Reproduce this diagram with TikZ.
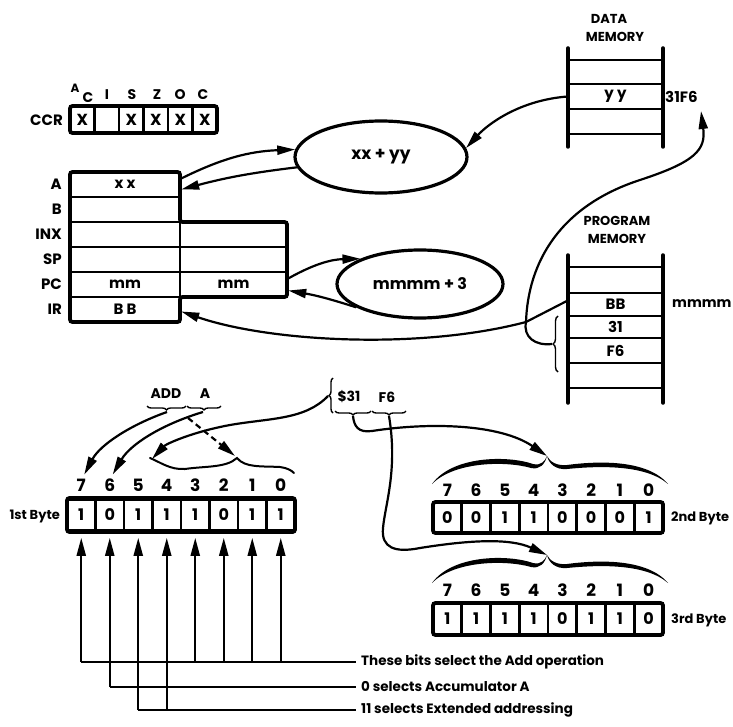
\documentclass[tikz,border=0pt]{standalone}
\usepackage{fontspec}
\setmainfont{Poppins}
\usetikzlibrary{arrows.meta,shapes.geometric,decorations.pathreplacing,calc}
\begin{document}
\begin{tikzpicture}[x=1pt,y=-1pt,
  fnt/.style={font=\bfseries\fontsize{#1}{#1}\selectfont, inner sep=0pt},
  reg/.style={draw, line width=2.4pt, minimum height=25pt, inner sep=0pt, fnt=15},
  ccrcell/.style={draw, line width=2.2pt, minimum width=24.5pt, minimum height=27pt, inner sep=0pt, fnt=16},
  bitcell/.style={draw, line width=2.6pt, minimum width=28.6pt, minimum height=31pt, inner sep=0pt, fnt=16},
  memrow/.style={minimum width=95pt, minimum height=22pt, inner sep=0pt, fnt=15},
  memside/.style={line width=3.5pt, line cap=round},
  memline/.style={line width=2.6pt},
  frame/.style={line width=3.8pt, rounded corners=2.5pt},
  oval/.style={draw, ellipse, line width=3.2pt, inner sep=0pt},
  arr/.style={line width=2.2pt, -{Triangle[length=18pt,width=9pt]}},
  wire/.style={line width=2.2pt},
  curly/.style={line width=1.4pt, decorate, decoration={brace, amplitude=#1}},
]
\useasboundingbox (0,0) rectangle (733,727);

% ---------------- CCR ----------------
\node[fnt=15, anchor=east] (ccrlbl) at (63,120) {CCR};
\foreach \v [count=\i from 0] in {X,,X,X,X,X}
  \node[ccrcell] (ccr\i) at (82.25+24.5*\i,119.5) {\v};
\draw[frame] (70,106) rectangle (217,133);
\node[fnt=12] (fa) at (75,88) {A};
\node[fnt=14] (fc1) at (88,98) {C};
\node[fnt=14] (fi) at (107,95) {I};
\node[fnt=14] (fs) at (132,95) {S};
\node[fnt=14] (fz) at (157,95) {Z};
\node[fnt=14] (fo) at (180,95) {O};
\node[fnt=14] (fc2) at (203,95) {C};

% ---------------- Registers ----------------
\node[reg, minimum width=110pt] (regA) at (125,184.5) {x x};
\node[reg, minimum width=110pt] (regB) at (125,209.5) {};
\node[reg, minimum width=110pt] (regXh) at (125,234.5) {};
\node[reg, minimum width=107pt] (regXl) at (233.5,234.5) {};
\node[reg, minimum width=110pt] (regSh) at (125,259.5) {};
\node[reg, minimum width=107pt] (regSl) at (233.5,259.5) {};
\node[reg, minimum width=110pt] (regPCh) at (125,284.5) {mm};
\node[reg, minimum width=107pt] (regPCl) at (233.5,284.5) {mm};
\node[reg, minimum width=110pt] (regIR) at (125,309.5) {B B};
\draw[frame] (70,172) -- (180,172) -- (180,222) -- (287,222) -- (287,297) -- (180,297) -- (180,322) -- (70,322) -- cycle;
\node[fnt=15, anchor=east] (lA) at (62,184.5) {A};
\node[fnt=15, anchor=east] (lB) at (62,209.5) {B};
\node[fnt=15, anchor=east] (lX) at (62,234.5) {INX};
\node[fnt=15, anchor=east] (lS) at (62,259.5) {SP};
\node[fnt=15, anchor=east] (lP) at (62,284.5) {PC};
\node[fnt=15, anchor=east] (lI) at (62,309.5) {IR};

% ---------------- Ovals ----------------
\node[oval, fnt=17, minimum width=172pt, minimum height=72pt] (ell1) at (381,157) {xx + yy};
\node[oval, fnt=16, minimum width=166pt, minimum height=68pt] (ell2) at (420,284) {mmmm + 3};

% ---------------- Data memory ----------------
\node[fnt=13] (dmt1) at (609,19) {DATA};
\node[fnt=13] (dmt2) at (615,37) {MEMORY};
\foreach \yy in {60,84,109,134} \draw[memline] (568,\yy) -- (663,\yy);
\draw[memside] (568,48) -- (568,147);
\draw[memside] (663,48) -- (663,147);
\node[memrow] (dmyy) at (615.5,96.5) {y y};
\node[fnt=15, anchor=west] (addr) at (665,97) {31F6};
\coordinate (tipF6) at (701,111);

% ---------------- Program memory ----------------
\node[fnt=13] (pmt1) at (617,221) {PROGRAM};
\node[fnt=13] (pmt2) at (617,239) {MEMORY};
\foreach \yy in {267,293,316,338,363,388} \draw[memline] (568,\yy) -- (663,\yy);
\draw[memside] (568,255) -- (568,403);
\draw[memside] (663,255) -- (663,403);
\node[memrow] (pmBB) at (615.5,304.5) {BB};
\node[memrow] (pm31) at (615.5,327) {31};
\node[memrow] (pmF6) at (615.5,350.5) {F6};
\node[fnt=14, anchor=west] (pmaddr) at (672,304) {mmmm};
\draw[curly=5pt] (558,372) -- (558,316);
\coordinate (pmbrace) at (552,344);
\coordinate (hook) at (526,322);

% ---------------- Connectors (top) ----------------
\draw[arr] ([yshift=6pt]regA.east) to[bend left=12] (ell1.175);
\draw[arr] (ell1.187) to[bend right=4] ([yshift=-5pt]regA.east);
\draw[arr] ([yshift=6pt]regPCl.east) to[bend left=14] (ell2.157);
\draw[arr] (ell2.200) to[bend right=4] ([yshift=-6pt]regPCl.east);
\draw[arr] (dmyy.west) .. controls (520,100) and (488,124) .. (ell1.6);
\draw[arr] ([yshift=4pt]pmBB.west) -- (hook) .. controls (420,350) and (270,342) .. ([yshift=-2pt]regIR.east);
\draw[arr] (pmbrace) .. controls (535,346) and (523,337) .. (hook)
   .. controls (528,262) and (560,206) .. (640,180)
   .. controls (695,162) and (706,150) .. (tipF6);

% ---------------- Instruction text ----------------
\node[fnt=14] (tADD) at (166,394) {ADD};
\node[fnt=14] (tA) at (205,394) {A};
\draw[curly=4pt, decoration={mirror}] (147,406) -- (186,406);
\draw[curly=4pt, decoration={mirror}] (187,406) -- (221,406);
\coordinate (addtip) at (167,412);
\coordinate (atip) at (203,412);
\node[fnt=14] (t31) at (349,397) {\$31};
\node[fnt=14] (tF6) at (387,397) {F6};
\draw[curly=4pt] (333,413) -- (333,378);
\coordinate (s31tip) at (328,396);
\draw[curly=4pt, decoration={mirror}] (335,411) -- (371,411);
\draw[curly=4pt, decoration={mirror}] (372,411) -- (406,411);
\coordinate (t31tip) at (353,416);
\coordinate (tF6tip) at (389,416);

% ---------------- 1st byte ----------------
\foreach \v [count=\i from 0] in {1,0,1,1,1,0,1,1} {
  \pgfmathtruncatemacro\b{7-\i}
  \node[bitcell] (b1c\b) at (81.25+28.5*\i,515) {\v};
  \node[fnt=17] (b1n\b) at (81.25+28.5*\i,485) {\b};
}
\draw[frame] (67,498) rectangle (295,532);
\node[fnt=13, anchor=east] (byte1) at (60,516) {1st Byte};
% wavy brace over bits 5..0
\draw[line width=2pt, line cap=round] (150,458) .. controls (160,462) and (170,470) .. (185,469)
  .. controls (205,466) and (226,468) .. (237,458)
  .. controls (245,468) and (262,466) .. (280,467)
  .. controls (287,468) and (291,470) .. (294,473);
\coordinate (bitbr1) at (152,459);
\coordinate (bitbr2) at (235,456);

\draw[arr] (addtip) .. controls (130,425) and (100,445) .. ([xshift=3pt,yshift=4pt]b1n7.north);
\draw[arr] (atip) .. controls (160,425) and (130,445) .. ([xshift=3pt,yshift=4pt]b1n6.north);
\draw[arr, dash pattern=on 6pt off 4pt] (188,418) -- (bitbr2);
\draw[arr] (s31tip) .. controls (305,420) and (270,418) .. (230,425)
   .. controls (192,432) and (166,444) .. (bitbr1);

% ---------------- 2nd and 3rd bytes ----------------
\foreach \v [count=\i from 0] in {0,0,1,1,0,0,0,1} {
  \pgfmathtruncatemacro\b{7-\i}
  \node[bitcell] (b2c\b) at (447.4+28.75*\i,517.5) {\v};
  \node[fnt=17] (b2n\b) at (447.4+28.75*\i,490) {\b};
}
\draw[frame] (433,502) rectangle (663,533);
\node[fnt=13, anchor=west] (byte2) at (671,518) {2nd Byte};
\foreach \v [count=\i from 0] in {1,1,1,1,0,1,1,0} {
  \pgfmathtruncatemacro\b{7-\i}
  \node[bitcell] (b3c\b) at (447.4+28.75*\i,619) {\v};
  \node[fnt=17] (b3n\b) at (447.4+28.75*\i,590) {\b};
}
\draw[frame] (433,603) rectangle (663,635);
\node[fnt=13, anchor=west] (byte3) at (671,620) {3rd Byte};

\foreach \sy/\nm in {456/br2, 555/br3} {
  \begin{scope}[shift={(547,\sy)}]
    \coordinate (\nm) at (0,0);
    \fill (-115,28) .. controls (-95,0) and (-40,-1) .. (-14,8) .. controls (-6,10) and (-2,5) .. (0,0)
       .. controls (-2,8) and (-7,14) .. (-16,12) .. controls (-40,5) and (-92,5) .. (-115,28) -- cycle;
    \fill (0,0) .. controls (3,6) and (10,10) .. (20,9) .. controls (50,5) and (100,3) .. (121,28)
       .. controls (98,8) and (50,10) .. (20,13) .. controls (9,14) and (2,8) .. (0,0) -- cycle;
  \end{scope}
}
\draw[arr] (t31tip) .. controls (354,426) and (358,433) .. (372,431)
   .. controls (430,422) and (500,424) .. (br2);
\draw[arr] (tF6tip) .. controls (398,470) and (385,505) .. (383,528)
   .. controls (381,548) and (395,553) .. (420,548)
   .. controls (470,540) and (510,538) .. (br3);

% ---------------- Bottom selector lines ----------------
\coordinate (L1) at (356,662);
\coordinate (L2) at (356,687);
\coordinate (L3) at (356,710);
\foreach \b/\L in {7/L1,6/L2,5/L3,4/L3,3/L1,2/L1,1/L1,0/L1}
  \draw[arr] (b1c\b.south |- \L) -- ([yshift=-6pt]b1c\b.south);
\draw[wire] (b1c7.south |- L1) -- (L1);
\draw[wire] (b1c6.south |- L2) -- (L2);
\draw[wire] (b1c5.south |- L3) -- (L3);
\node[fnt=13.5, anchor=west] (n1) at ([xshift=5pt]L1) {These bits select the Add operation};
\node[fnt=13.5, anchor=west] (n2) at ([xshift=5pt]L2) {0 selects Accumulator A};
\node[fnt=13.5, anchor=west] (n3) at ([xshift=5pt]L3) {11 selects Extended addressing};
\end{tikzpicture}
\end{document}
